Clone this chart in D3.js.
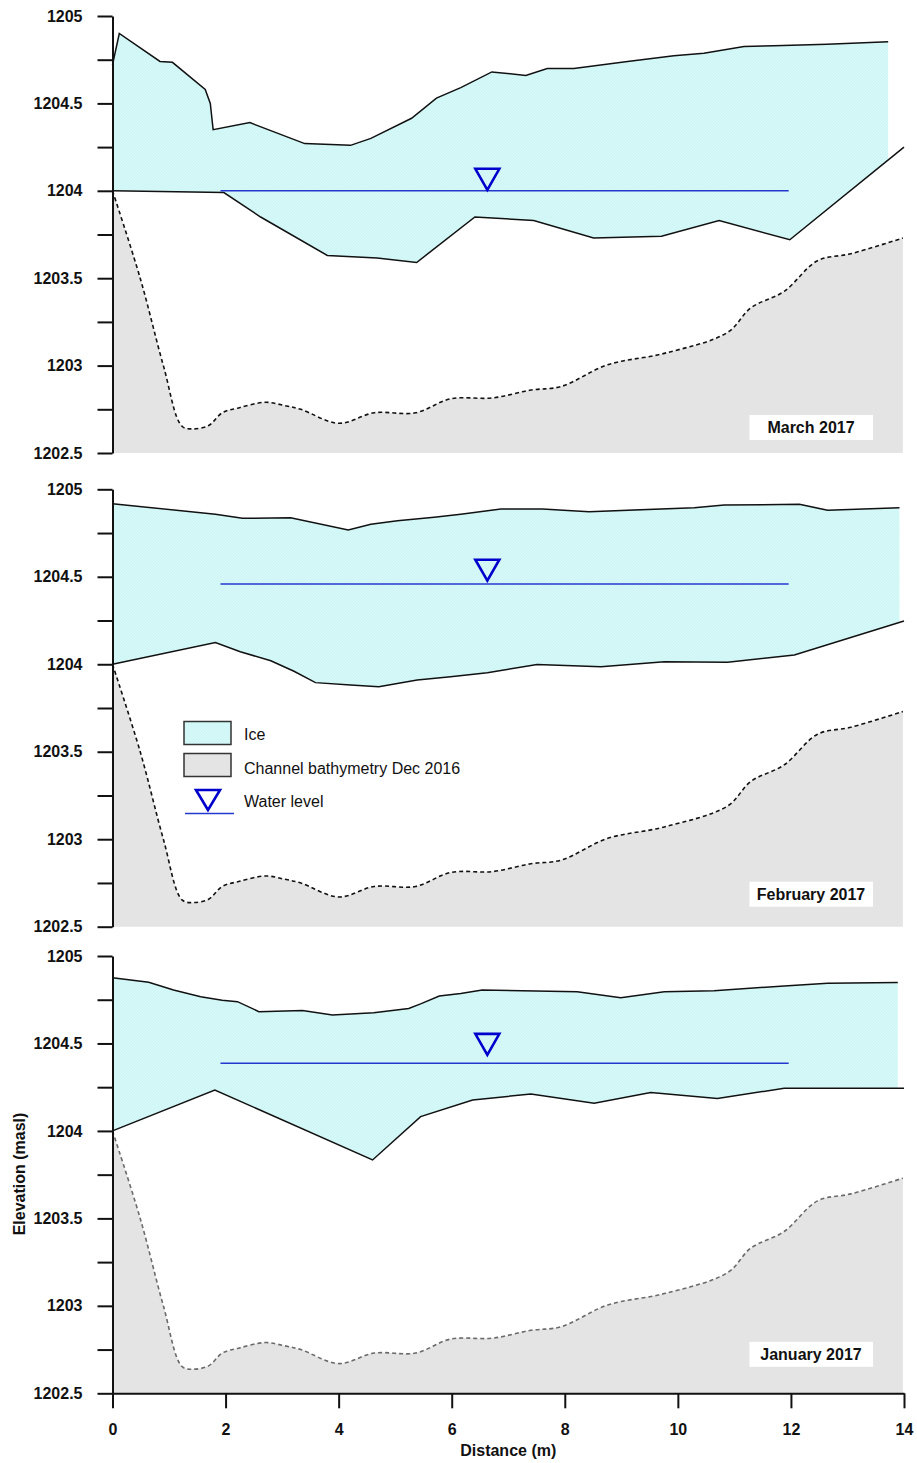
<!DOCTYPE html>
<html>
<head>
<meta charset="utf-8">
<script src="https://cdn.jsdelivr.net/npm/d3@7"></script>
<style>
  html, body { margin: 0; padding: 0; background: #fff; }
  svg { display: block; font-family: "Liberation Sans", Arial, sans-serif; }
</style>
</head>
<body>
<svg id="chart" width="917" height="1463"></svg>
<script>
// ---------------- DATA ----------------
const panelNames = ["March 2017", "February 2017", "January 2017"];
const distanceTicks = [0, 2, 4, 6, 8, 10, 12, 14];
const elevationTicks = [1202.5, 1202.75, 1203, 1203.25, 1203.5, 1203.75, 1204, 1204.25, 1204.5, 1204.75, 1205];
const elevationLabels = [1202.5, 1203, 1203.5, 1204, 1204.5, 1205];

// Channel bathymetry Dec 2016 (same in every panel)
const bathX = [0, 0.49, 0.90, 1.23, 1.43, 1.70, 1.94, 2.23, 2.70, 3.05, 3.33, 4.00, 4.63, 5.36, 5.98, 6.72, 7.40, 7.93, 8.76, 9.76, 10.88, 11.29, 11.88, 12.47, 13.06, 13.98];
const bathY = [1204.0, 1203.5, 1203.0, 1202.653, 1202.638, 1202.657, 1202.73, 1202.758, 1202.79, 1202.771, 1202.75, 1202.67, 1202.73, 1202.73, 1202.81, 1202.815, 1202.86, 1202.88, 1203.005, 1203.07, 1203.19, 1203.33, 1203.425, 1203.60, 1203.64, 1203.73];

// March 2017 ice
const marchTopX = [0, 0.12, 0.84, 1.06, 1.64, 1.73, 1.78, 2.43, 3.40, 4.21, 4.57, 5.29, 5.73, 6.16, 6.71, 7.31, 7.69, 8.16, 9.11, 9.93, 10.46, 11.17, 11.70, 12.64, 13.72];
const marchTopY = [1204.72, 1204.90, 1204.74, 1204.735, 1204.58, 1204.50, 1204.35, 1204.39, 1204.27, 1204.26, 1204.30, 1204.415, 1204.53, 1204.59, 1204.68, 1204.66, 1204.70, 1204.70, 1204.74, 1204.773, 1204.787, 1204.825, 1204.83, 1204.838, 1204.853];
const marchBedX = [0, 1.97, 2.62, 3.80, 4.68, 5.38, 6.41, 7.45, 8.51, 9.71, 10.73, 11.98, 14.0];
const marchBedY = [1204.0, 1203.99, 1203.85, 1203.63, 1203.615, 1203.59, 1203.85, 1203.83, 1203.73, 1203.74, 1203.83, 1203.72, 1204.25];

// February 2017 ice
const febTopX = [0, 1.82, 2.30, 3.15, 4.17, 4.57, 5.04, 5.69, 6.16, 6.87, 7.60, 8.43, 10.29, 10.82, 12.15, 12.65, 13.92];
const febTopY = [1204.918, 1204.857, 1204.834, 1204.838, 1204.767, 1204.800, 1204.820, 1204.840, 1204.857, 1204.887, 1204.888, 1204.872, 1204.895, 1204.910, 1204.914, 1204.880, 1204.895];
const febBedX = [0, 1.82, 2.26, 2.80, 3.21, 3.59, 4.21, 4.71, 5.39, 5.98, 6.63, 7.51, 8.64, 9.76, 10.88, 12.06, 14.0];
const febBedY = [1204.00, 1204.124, 1204.072, 1204.02, 1203.96, 1203.895, 1203.882, 1203.872, 1203.91, 1203.929, 1203.952, 1203.998, 1203.986, 1204.015, 1204.011, 1204.053, 1204.247];

// January 2017 ice
const janTopX = [0, 0.64, 1.08, 1.56, 1.94, 2.21, 2.59, 3.36, 3.89, 4.62, 5.24, 5.45, 5.78, 6.16, 6.54, 8.22, 8.99, 9.76, 10.64, 11.88, 12.65, 13.89];
const janTopY = [1204.876, 1204.85, 1204.806, 1204.767, 1204.747, 1204.739, 1204.682, 1204.688, 1204.663, 1204.676, 1204.70, 1204.726, 1204.771, 1204.785, 1204.806, 1204.796, 1204.762, 1204.796, 1204.802, 1204.829, 1204.844, 1204.848];
const janBedX = [0, 1.81, 4.60, 5.45, 6.37, 7.40, 8.52, 9.52, 10.70, 11.88, 14.0];
const janBedY = [1204.00, 1204.234, 1203.834, 1204.082, 1204.177, 1204.211, 1204.158, 1204.219, 1204.185, 1204.244, 1204.244];

// Water level (masl) per panel [March, February, January]
const waterLevel = [1204.0, 1204.459, 1204.387];
const waterMarkerLevel = [1204.0, 1204.472, 1204.429];
const waterStart = 1.91, waterEnd = 11.96, waterMarkerX = 6.63;

const legendLabels = ["Ice", "Channel bathymetry Dec 2016", "Water level"];

// ---------------- LAYOUT ----------------
const panelTop = [16, 489.3, 956];
const panelBottom = [453, 926.7, 1393.3];
const labelBoxOffset = [13, 20, 26.5];
const xLeft = 112.5, xRight = 904;

const C = {
  ice: "#d5f9f9",
  bath: "#e4e4e4",
  line: "#111",
  water: "#2438d0",
  marker: "#0000cc",
  font: "\"Liberation Sans\", Arial, sans-serif"
};

const svg = d3.select("#chart");
const x = d3.scaleLinear().domain([0, 14]).range([xLeft, xRight]);

const zip = (xs, ys) => xs.map((v, i) => [v, ys[i]]);
const bath = zip(bathX, bathY);
const series = [
  { top: zip(marchTopX, marchTopY), bed: zip(marchBedX, marchBedY), dash: "#111" },
  { top: zip(febTopX, febTopY), bed: zip(febBedX, febBedY), dash: "#111" },
  { top: zip(janTopX, janTopY), bed: zip(janBedX, janBedY), dash: "#6a6a6a" }
];

const defs = svg.append("defs");
// subtle texture for ice
const pat = defs.append("pattern").attr("id", "icePat").attr("patternUnits", "userSpaceOnUse")
  .attr("width", 3).attr("height", 3);
pat.append("rect").attr("width", 3).attr("height", 3).attr("fill", C.ice);
pat.append("path").attr("d", "M0,3 L3,0").attr("stroke", "#c9efef").attr("stroke-width", 0.6);

series.forEach((s, i) => {
  const y = d3.scaleLinear().domain([1202.5, 1205]).range([panelBottom[i], panelTop[i]]);
  const g = svg.append("g");

  // bathymetry fill + dashed line
  const curve = d3.curveCatmullRom.alpha(0.5);
  const area = d3.area().x(d => x(d[0])).y0(y(1202.5)).y1(d => y(d[1])).curve(curve);
  const line = d3.line().x(d => x(d[0])).y(d => y(d[1])).curve(curve);
  g.append("path").attr("d", area(bath)).attr("fill", C.bath);
  g.append("path").attr("d", line(bath)).attr("fill", "none")
    .attr("stroke", s.dash).attr("stroke-width", 1.6).attr("stroke-dasharray", "4,3");

  // ice polygon, clipped at end of ice top
  const lastX = s.top[s.top.length - 1][0];
  const clipId = "clip" + i;
  defs.append("clipPath").attr("id", clipId).append("rect")
    .attr("x", x(0)).attr("y", y(1205) - 5)
    .attr("width", x(lastX) - x(0)).attr("height", y(1202.5) - y(1205) + 10);
  const lin = d3.line().x(d => x(d[0])).y(d => y(d[1]));
  const poly = s.top.concat(s.bed.slice().reverse());
  g.append("path").attr("d", lin(poly) + "Z").attr("fill", "url(#icePat)")
    .attr("clip-path", `url(#${clipId})`);
  g.append("path").attr("d", lin(s.top)).attr("fill", "none").attr("stroke", C.line).attr("stroke-width", 1.5);
  g.append("path").attr("d", lin(s.bed)).attr("fill", "none").attr("stroke", C.line).attr("stroke-width", 1.5);

  // water level
  g.append("line").attr("x1", x(waterStart)).attr("x2", x(waterEnd))
    .attr("y1", y(waterLevel[i])).attr("y2", y(waterLevel[i]))
    .attr("stroke", C.water).attr("stroke-width", 1.6);
  const mx = x(waterMarkerX), my = y(waterMarkerLevel[i]);
  g.append("path").attr("d", `M${mx},${my - 1} L${mx - 12},${my - 22} L${mx + 12},${my - 22} Z`)
    .attr("fill", "none").attr("stroke", C.marker).attr("stroke-width", 2.6).attr("stroke-linejoin", "miter");

  // panel label
  const bb = panelBottom[i] - labelBoxOffset[i];
  g.append("rect").attr("x", 749.5).attr("y", bb - 25).attr("width", 123.5).attr("height", 25).attr("fill", "#fff");
  g.append("text").attr("x", 811).attr("y", bb - 7).attr("text-anchor", "middle")
    .attr("font-size", 16).attr("font-weight", "bold").attr("fill", "#111").text(panelNames[i]);

  // y axis
  const ax = d3.axisLeft(y).tickValues(elevationTicks).tickSize(15).tickSizeOuter(0).tickPadding(15)
    .tickFormat(d => elevationLabels.includes(d) ? d3.format("")(d) : "");
  const ag = svg.append("g").attr("transform", `translate(${xLeft},0)`).call(ax);
  ag.select(".domain").attr("stroke", "#111").attr("stroke-width", 2);
  ag.selectAll(".tick line").attr("stroke", "#111").attr("stroke-width", 2);
  ag.selectAll("text").attr("font-size", 16).attr("font-weight", "bold").attr("fill", "#111")
    .attr("font-family", C.font);

  // x axis in bottom panel
  if (i === series.length - 1) {
    const bx = d3.axisBottom(x).tickValues(distanceTicks).tickSize(15).tickSizeOuter(0).tickPadding(15);
    const bg = svg.append("g").attr("transform", `translate(0,${panelBottom[i]})`).call(bx);
    bg.select(".domain").attr("stroke", "#111").attr("stroke-width", 2);
    bg.selectAll(".tick line").attr("stroke", "#111").attr("stroke-width", 2);
    bg.selectAll("text").attr("font-size", 16).attr("font-weight", "bold").attr("fill", "#111")
      .attr("font-family", C.font);
  }
});

// axis titles
svg.append("text").attr("x", (xLeft + xRight) / 2 + 0).attr("y", 1456).attr("text-anchor", "middle")
  .attr("font-size", 16).attr("font-weight", "bold").attr("fill", "#111").text("Distance (m)");
svg.append("text").attr("transform", "translate(24.5,1174) rotate(-90)").attr("text-anchor", "middle")
  .attr("font-size", 16).attr("font-weight", "bold").attr("fill", "#111").text("Elevation (masl)");

// legend (in February panel)
const lg = svg.append("g");
lg.append("rect").attr("x", 184).attr("y", 721.5).attr("width", 47).attr("height", 23)
  .attr("fill", "url(#icePat)").attr("stroke", "#333").attr("stroke-width", 1.5);
lg.append("rect").attr("x", 184).attr("y", 753.5).attr("width", 47).attr("height", 23)
  .attr("fill", C.bath).attr("stroke", "#333").attr("stroke-width", 1.5);
lg.append("path").attr("d", "M208,810 L196,790 L220,790 Z").attr("fill", "none")
  .attr("stroke", C.marker).attr("stroke-width", 2.6);
lg.append("line").attr("x1", 185).attr("x2", 234).attr("y1", 813.5).attr("y2", 813.5)
  .attr("stroke", C.water).attr("stroke-width", 1.6);
const ly = [739.5, 773.5, 806.5];
legendLabels.forEach((t, k) => {
  lg.append("text").attr("x", 244).attr("y", ly[k]).attr("font-size", 16).attr("fill", "#111").text(t);
});
</script>
</body>
</html>
